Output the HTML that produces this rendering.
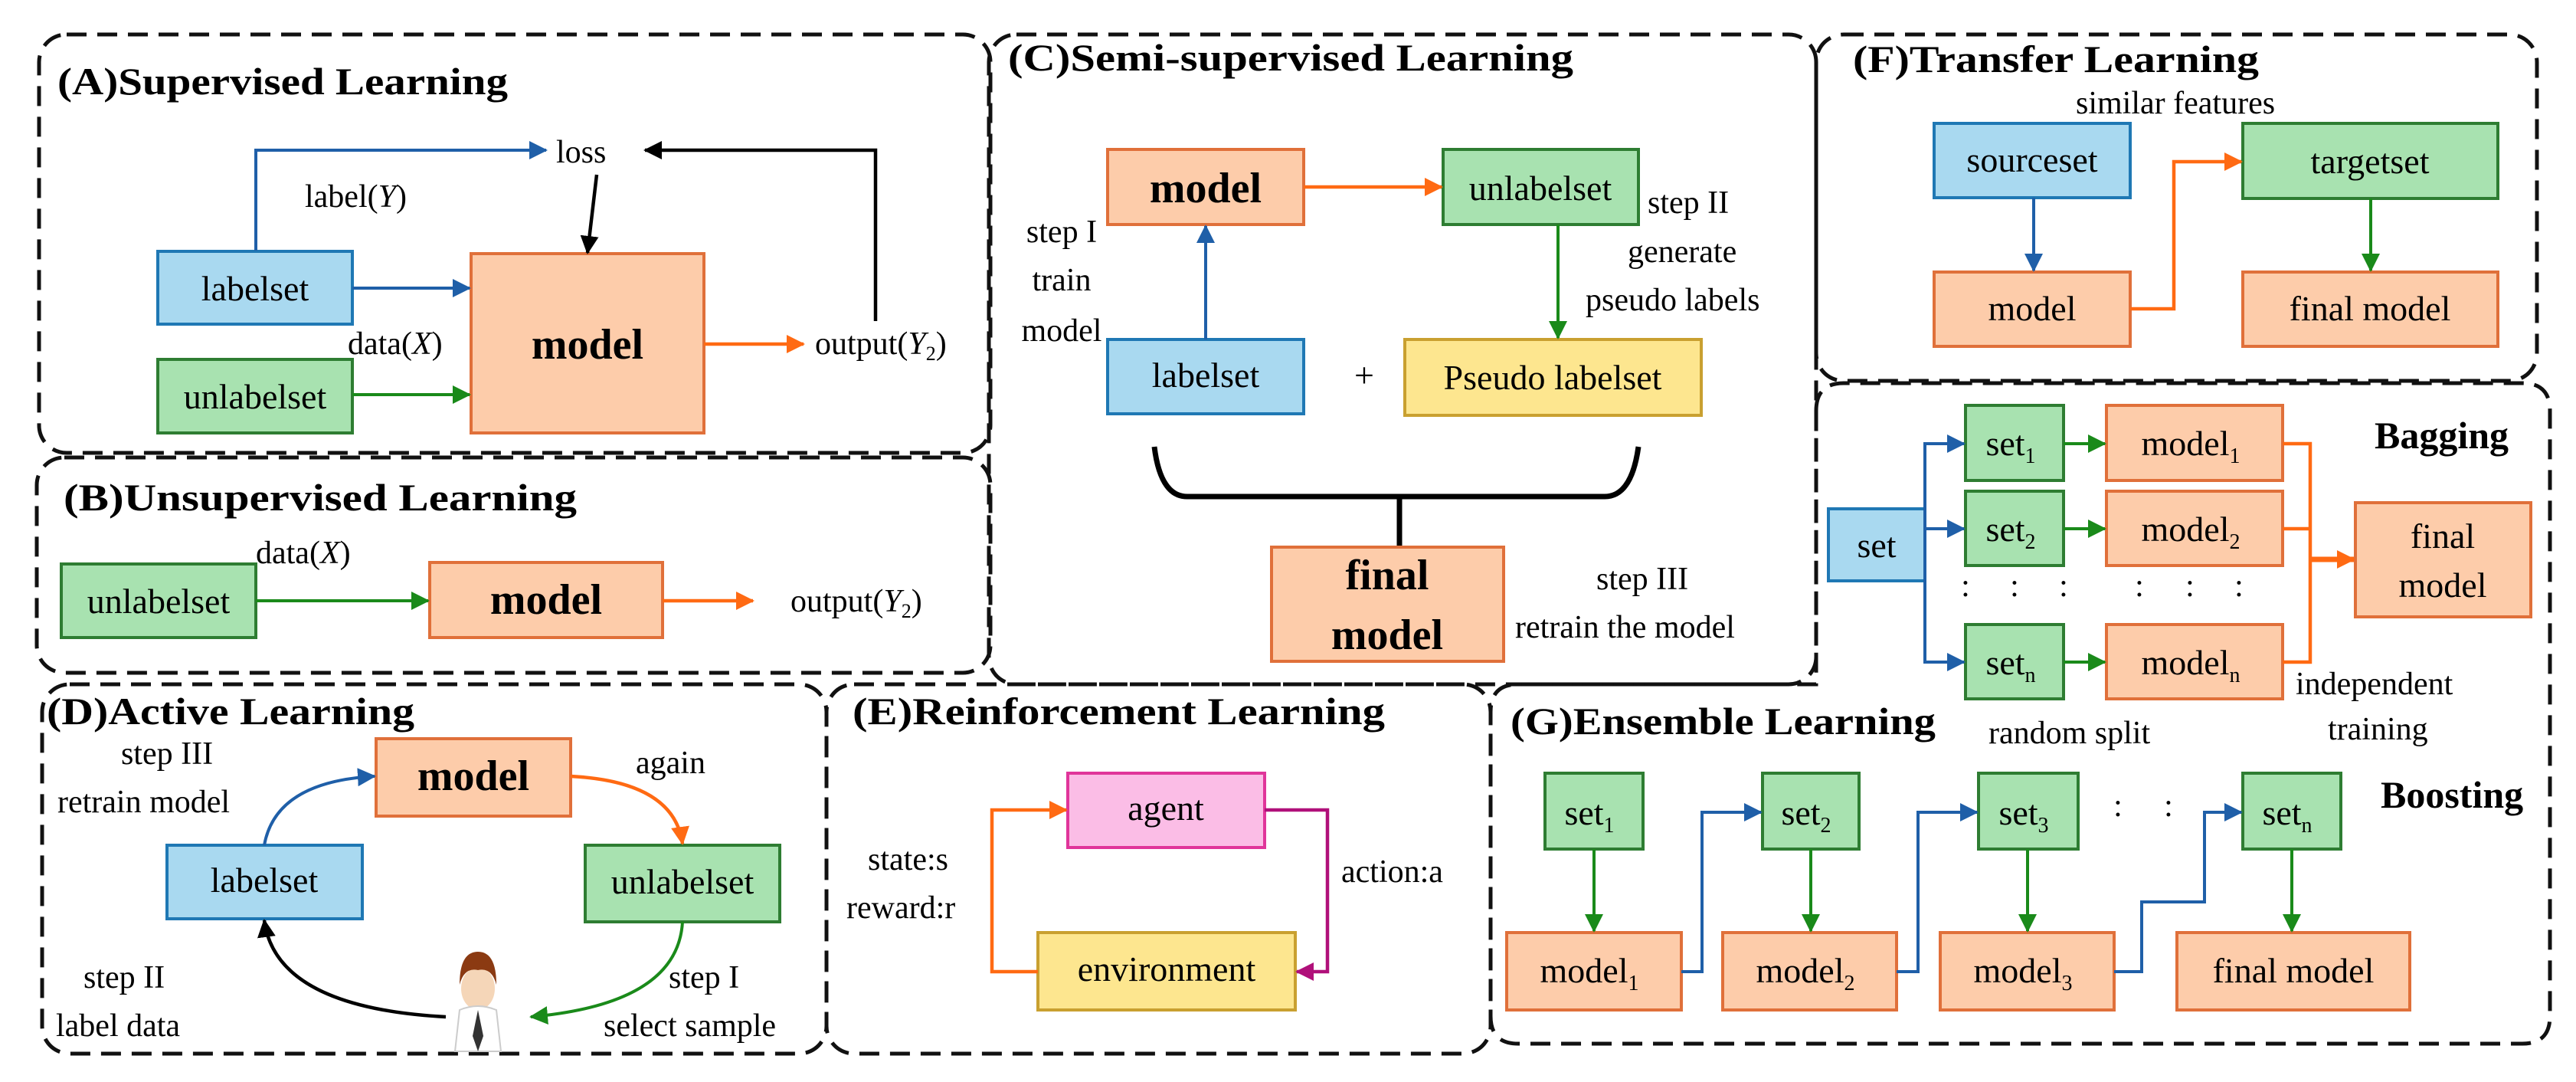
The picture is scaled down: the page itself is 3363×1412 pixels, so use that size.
<!DOCTYPE html>
<html><head><meta charset="utf-8"><style>
html,body{margin:0;padding:0;background:#fff;}
svg{display:block;}
text{font-family:"Liberation Serif","DejaVu Serif",serif;fill:#000;}
.t{font-size:50px;font-weight:bold;}
.b{font-size:46px;}
.l{font-size:42px;}
.bb{font-size:56px;font-weight:bold;}
.dash{fill:none;stroke:#111;stroke-width:5;stroke-dasharray:26 14;}
.bl{fill:#a9d9f0;stroke:#1f78b4;stroke-width:4;}
.gr{fill:#a8e2b0;stroke:#2e7d32;stroke-width:4;}
.or{fill:#fdccaa;stroke:#e0703a;stroke-width:4;}
.ye{fill:#fde68f;stroke:#c9a030;stroke-width:4;}
.pk{fill:#fbbde6;stroke:#e0359a;stroke-width:4;}
.ab{fill:none;stroke:#1f5fa8;stroke-width:4;}
.ag{fill:none;stroke:#1a8a1a;stroke-width:4;}
.ao{fill:none;stroke:#ff6a13;stroke-width:4.5;}
.ak{fill:none;stroke:#000;stroke-width:4.5;}
.ap{fill:none;stroke:#b0107a;stroke-width:4.5;}
</style></head><body>
<svg width="3363" height="1412" viewBox="0 0 3363 1412" font-family="Liberation Serif, serif" xmlns="http://www.w3.org/2000/svg">
<defs>
<marker id="mb" markerWidth="24" markerHeight="24" refX="22" refY="12" orient="auto" markerUnits="userSpaceOnUse"><path d="M0,0 L24,12 L0,24z" fill="#1f5fa8"/></marker>
<marker id="mg" markerWidth="24" markerHeight="24" refX="22" refY="12" orient="auto" markerUnits="userSpaceOnUse"><path d="M0,0 L24,12 L0,24z" fill="#1a8a1a"/></marker>
<marker id="mo" markerWidth="24" markerHeight="24" refX="22" refY="12" orient="auto" markerUnits="userSpaceOnUse"><path d="M0,0 L24,12 L0,24z" fill="#ff6a13"/></marker>
<marker id="mk" markerWidth="24" markerHeight="24" refX="22" refY="12" orient="auto" markerUnits="userSpaceOnUse"><path d="M0,0 L24,12 L0,24z" fill="#000"/></marker>
<marker id="mp" markerWidth="24" markerHeight="24" refX="22" refY="12" orient="auto" markerUnits="userSpaceOnUse"><path d="M0,0 L24,12 L0,24z" fill="#b0107a"/></marker>
</defs>

<!-- Panel frames -->
<rect class="dash" x="51" y="45" width="1242" height="546" rx="36"/>
<rect class="dash" x="48" y="597" width="1245" height="281" rx="36"/>
<rect class="dash" x="1291" y="45" width="1080" height="848" rx="36"/>
<rect class="dash" x="2371" y="45" width="941" height="452" rx="36"/>
<path class="dash" d="M2371,536 Q2371,500 2407,500 H3293 Q3329,500 3329,536 V1326 Q3329,1362 3293,1362 H1982 Q1946,1362 1946,1326 V929 Q1946,893 1982,893 H2371 Z"/>
<rect class="dash" x="55" y="893" width="1024" height="482" rx="36"/>
<rect class="dash" x="1079" y="893" width="867" height="482" rx="36"/>

<!-- (A) -->
<text class="t" x="75" y="123" textLength="588" lengthAdjust="spacingAndGlyphs">(A)Supervised Learning</text>
<rect class="bl" x="206" y="328" width="254" height="95"/>
<text class="b" x="333" y="392" text-anchor="middle">labelset</text>
<rect class="gr" x="206" y="469" width="254" height="96"/>
<text class="b" x="333" y="533" text-anchor="middle">unlabelset</text>
<rect class="or" x="615" y="331" width="304" height="234"/>
<text class="bb" x="767" y="468" text-anchor="middle">model</text>
<text class="l" x="726" y="212">loss</text>
<text class="l" x="398" y="270">label(<tspan font-style="italic">Y</tspan>)</text>
<text class="l" x="454" y="462">data(<tspan font-style="italic">X</tspan>)</text>
<text class="l" x="1064" y="462">output(<tspan font-style="italic">Y</tspan><tspan font-size="26" dy="8">2</tspan><tspan dy="-8">)</tspan></text>
<path class="ab" d="M334,327 V196 H713" marker-end="url(#mb)"/>
<path class="ab" d="M460,376 H613" marker-end="url(#mb)"/>
<path class="ag" d="M460,515 H613" marker-end="url(#mg)"/>
<path class="ao" d="M919,449 H1049" marker-end="url(#mo)"/>
<path class="ak" d="M1143,419 V196 H842" marker-end="url(#mk)"/>
<path class="ak" d="M779,228 L767,330" marker-end="url(#mk)"/>

<!-- (B) -->
<text class="t" x="83" y="666" textLength="670" lengthAdjust="spacingAndGlyphs">(B)Unsupervised Learning</text>
<rect class="gr" x="80" y="736" width="254" height="96"/>
<text class="b" x="207" y="800" text-anchor="middle">unlabelset</text>
<rect class="or" x="561" y="734" width="304" height="98"/>
<text class="bb" x="713" y="801" text-anchor="middle">model</text>
<text class="l" x="334" y="735">data(<tspan font-style="italic">X</tspan>)</text>
<text class="l" x="1032" y="798">output(<tspan font-style="italic">Y</tspan><tspan font-size="26" dy="8">2</tspan><tspan dy="-8">)</tspan></text>
<path class="ag" d="M334,784 H559" marker-end="url(#mg)"/>
<path class="ao" d="M865,784 H983" marker-end="url(#mo)"/>

<!-- (C) -->
<text class="t" x="1316" y="92" textLength="738" lengthAdjust="spacingAndGlyphs">(C)Semi-supervised Learning</text>
<rect class="or" x="1446" y="195" width="256" height="98"/>
<text class="bb" x="1574" y="264" text-anchor="middle">model</text>
<rect class="gr" x="1884" y="195" width="255" height="98"/>
<text class="b" x="2011" y="261" text-anchor="middle">unlabelset</text>
<rect class="bl" x="1446" y="443" width="256" height="97"/>
<text class="b" x="1574" y="505" text-anchor="middle">labelset</text>
<rect class="ye" x="1834" y="443" width="387" height="99"/>
<text class="b" x="2027" y="508" text-anchor="middle">Pseudo labelset</text>
<text class="b" x="1781" y="505" text-anchor="middle" fill="#1f5fa8">+</text>
<text class="l" x="1386" y="316" text-anchor="middle">step I</text>
<text class="l" x="1386" y="379" text-anchor="middle">train</text>
<text class="l" x="1386" y="445" text-anchor="middle">model</text>
<text class="l" x="2151" y="278">step II</text>
<text class="l" x="2125" y="342">generate</text>
<text class="l" x="2070" y="405">pseudo labels</text>
<path class="ab" d="M1574,443 V295" marker-end="url(#mb)"/>
<path class="ao" d="M1702,244 H1882" marker-end="url(#mo)"/>
<path class="ag" d="M2034,293 V441" marker-end="url(#mg)"/>
<path d="M1507,583 Q1515,648 1550,648 H2095 Q2130,648 2139,583" fill="none" stroke="#000" stroke-width="7"/>
<path d="M1827,648 V714" stroke="#000" stroke-width="7"/>
<rect class="or" x="1660" y="714" width="303" height="149"/>
<text class="bb" x="1811" y="769" text-anchor="middle">final</text>
<text class="bb" x="1811" y="847" text-anchor="middle">model</text>
<text class="l" x="2084" y="769">step III</text>
<text class="l" x="1978" y="832">retrain the model</text>

<!-- (F) -->
<text class="t" x="2419" y="94" textLength="530" lengthAdjust="spacingAndGlyphs">(F)Transfer Learning</text>
<text class="l" x="2710" y="148">similar features</text>
<rect class="bl" x="2525" y="161" width="256" height="97"/>
<text class="b" x="2653" y="224" text-anchor="middle">sourceset</text>
<rect class="gr" x="2928" y="161" width="333" height="98"/>
<text class="b" x="3094" y="226" text-anchor="middle">targetset</text>
<rect class="or" x="2525" y="355" width="256" height="97"/>
<text class="b" x="2653" y="418" text-anchor="middle">model</text>
<rect class="or" x="2928" y="355" width="333" height="97"/>
<text class="b" x="3094" y="418" text-anchor="middle">final model</text>
<path class="ab" d="M2655,258 V353" marker-end="url(#mb)"/>
<path class="ag" d="M3095,259 V353" marker-end="url(#mg)"/>
<path class="ao" d="M2781,403 H2838 V211 H2926" marker-end="url(#mo)"/>

<!-- (G) Bagging -->
<text class="t" x="3100" y="585">Bagging</text>
<rect class="bl" x="2387" y="664" width="126" height="94"/>
<text class="b" x="2450" y="727" text-anchor="middle">set</text>
<rect class="gr" x="2566" y="529" width="128" height="98"/>
<text class="b" x="2625" y="594" text-anchor="middle">set<tspan font-size="28" dy="10">1</tspan></text>
<rect class="gr" x="2566" y="641" width="128" height="97"/>
<text class="b" x="2625" y="706" text-anchor="middle">set<tspan font-size="28" dy="10">2</tspan></text>
<rect class="gr" x="2566" y="815" width="128" height="97"/>
<text class="b" x="2625" y="880" text-anchor="middle">set<tspan font-size="28" dy="10">n</tspan></text>
<rect class="or" x="2750" y="529" width="230" height="98"/>
<text class="b" x="2860" y="594" text-anchor="middle">model<tspan font-size="28" dy="10">1</tspan></text>
<rect class="or" x="2750" y="641" width="230" height="97"/>
<text class="b" x="2860" y="706" text-anchor="middle">model<tspan font-size="28" dy="10">2</tspan></text>
<rect class="or" x="2750" y="815" width="230" height="97"/>
<text class="b" x="2860" y="880" text-anchor="middle">model<tspan font-size="28" dy="10">n</tspan></text>
<rect class="or" x="3075" y="656" width="229" height="149"/>
<text class="b" x="3189" y="715" text-anchor="middle">final</text>
<text class="b" x="3189" y="779" text-anchor="middle">model</text>
<g class="l" text-anchor="middle">
<text x="2566" y="778">:</text><text x="2630" y="778">:</text><text x="2694" y="778">:</text>
<text x="2793" y="778">:</text><text x="2859" y="778">:</text><text x="2923" y="778">:</text>
</g>
<path class="ab" d="M2513,710 V579 H2564" marker-end="url(#mb)"/>
<path class="ab" d="M2513,690 H2564" marker-end="url(#mb)"/>
<path class="ab" d="M2513,700 V864 H2564" marker-end="url(#mb)"/>
<path class="ag" d="M2694,579 H2748" marker-end="url(#mg)"/>
<path class="ag" d="M2694,690 H2748" marker-end="url(#mg)"/>
<path class="ag" d="M2694,864 H2748" marker-end="url(#mg)"/>
<path class="ao" d="M2980,579 H3016 V864 H2980 M2980,690 H3016"/>
<path d="M3016,730 H3073" stroke="#ff6a13" stroke-width="7" marker-end="url(#mo)"/>
<text class="l" x="2997" y="906">independent</text>
<text class="l" x="3039" y="965">training</text>
<text class="l" x="2596" y="970">random split</text>

<!-- (G) Boosting -->
<text class="t" x="1972" y="958" textLength="555" lengthAdjust="spacingAndGlyphs">(G)Ensemble Learning</text>
<text class="t" x="3108" y="1054">Boosting</text>
<rect class="gr" x="2017" y="1009" width="128" height="99"/>
<text class="b" x="2075" y="1076" text-anchor="middle">set<tspan font-size="28" dy="10">1</tspan></text>
<rect class="gr" x="2301" y="1009" width="126" height="99"/>
<text class="b" x="2358" y="1076" text-anchor="middle">set<tspan font-size="28" dy="10">2</tspan></text>
<rect class="gr" x="2583" y="1009" width="130" height="99"/>
<text class="b" x="2642" y="1076" text-anchor="middle">set<tspan font-size="28" dy="10">3</tspan></text>
<rect class="gr" x="2928" y="1009" width="128" height="99"/>
<text class="b" x="2986" y="1076" text-anchor="middle">set<tspan font-size="28" dy="10">n</tspan></text>
<text class="l" x="2765" y="1065" text-anchor="middle">:</text>
<text class="l" x="2831" y="1065" text-anchor="middle">:</text>
<rect class="or" x="1967" y="1217" width="228" height="101"/>
<text class="b" x="2075" y="1282" text-anchor="middle">model<tspan font-size="28" dy="10">1</tspan></text>
<rect class="or" x="2249" y="1217" width="227" height="101"/>
<text class="b" x="2357" y="1282" text-anchor="middle">model<tspan font-size="28" dy="10">2</tspan></text>
<rect class="or" x="2533" y="1217" width="227" height="101"/>
<text class="b" x="2641" y="1282" text-anchor="middle">model<tspan font-size="28" dy="10">3</tspan></text>
<rect class="or" x="2842" y="1217" width="304" height="101"/>
<text class="b" x="2994" y="1282" text-anchor="middle">final model</text>
<path class="ag" d="M2081,1108 V1215" marker-end="url(#mg)"/>
<path class="ag" d="M2364,1108 V1215" marker-end="url(#mg)"/>
<path class="ag" d="M2647,1108 V1215" marker-end="url(#mg)"/>
<path class="ag" d="M2992,1108 V1215" marker-end="url(#mg)"/>
<path class="ab" d="M2195,1268 H2222 V1060 H2299" marker-end="url(#mb)"/>
<path class="ab" d="M2476,1268 H2504 V1060 H2581" marker-end="url(#mb)"/>
<path class="ab" d="M2760,1268 H2796 V1177 H2878 V1060 H2926" marker-end="url(#mb)"/>

<!-- (D) -->
<text class="t" x="61" y="945" textLength="480" lengthAdjust="spacingAndGlyphs">(D)Active Learning</text>
<rect class="or" x="491" y="964" width="254" height="101"/>
<text class="bb" x="618" y="1031" text-anchor="middle">model</text>
<rect class="bl" x="218" y="1103" width="255" height="96"/>
<text class="b" x="345" y="1164" text-anchor="middle">labelset</text>
<rect class="gr" x="764" y="1103" width="254" height="100"/>
<text class="b" x="891" y="1166" text-anchor="middle">unlabelset</text>
<text class="l" x="218" y="997" text-anchor="middle">step III</text>
<text class="l" x="75" y="1060">retrain model</text>
<text class="l" x="830" y="1009">again</text>
<text class="l" x="109" y="1289">step II</text>
<text class="l" x="73" y="1352">label data</text>
<text class="l" x="873" y="1289">step I</text>
<text class="l" x="788" y="1352">select sample</text>
<path class="ab" d="M345,1103 Q360,1020 489,1013" marker-end="url(#mb)"/>
<path class="ao" d="M745,1013 Q880,1020 891,1101" marker-end="url(#mo)"/>
<path class="ag" d="M891,1203 Q885,1310 693,1327" marker-end="url(#mg)"/>
<path class="ak" d="M582,1327 Q360,1315 345,1201" marker-end="url(#mk)"/>
<!-- person -->
<ellipse cx="624" cy="1290" rx="22" ry="28" fill="#f5d6b8"/>
<path d="M600,1285 Q600,1242 624,1242 Q648,1242 648,1285 Q642,1262 624,1266 Q606,1262 600,1285z" fill="#8b3a12"/>
<path d="M594,1372 L600,1318 Q624,1308 648,1318 L654,1372z" fill="#fff" stroke="#ccc" stroke-width="2"/>
<path d="M624,1318 L617,1352 L624,1372 L631,1352z" fill="#333"/>

<!-- (E) -->
<text class="t" x="1113" y="945" textLength="695" lengthAdjust="spacingAndGlyphs">(E)Reinforcement Learning</text>
<rect class="pk" x="1394" y="1009" width="257" height="97"/>
<text class="b" x="1522" y="1070" text-anchor="middle">agent</text>
<rect class="ye" x="1355" y="1217" width="336" height="101"/>
<text class="b" x="1523" y="1280" text-anchor="middle">environment</text>
<text class="l" x="1133" y="1135">state:s</text>
<text class="l" x="1105" y="1198">reward:r</text>
<text class="l" x="1751" y="1151">action:a</text>
<path class="ao" d="M1355,1268 H1295 V1057 H1392" marker-end="url(#mo)"/>
<path class="ap" d="M1651,1057 H1733 V1268 H1693" marker-end="url(#mp)"/>
</svg>
</body></html>
